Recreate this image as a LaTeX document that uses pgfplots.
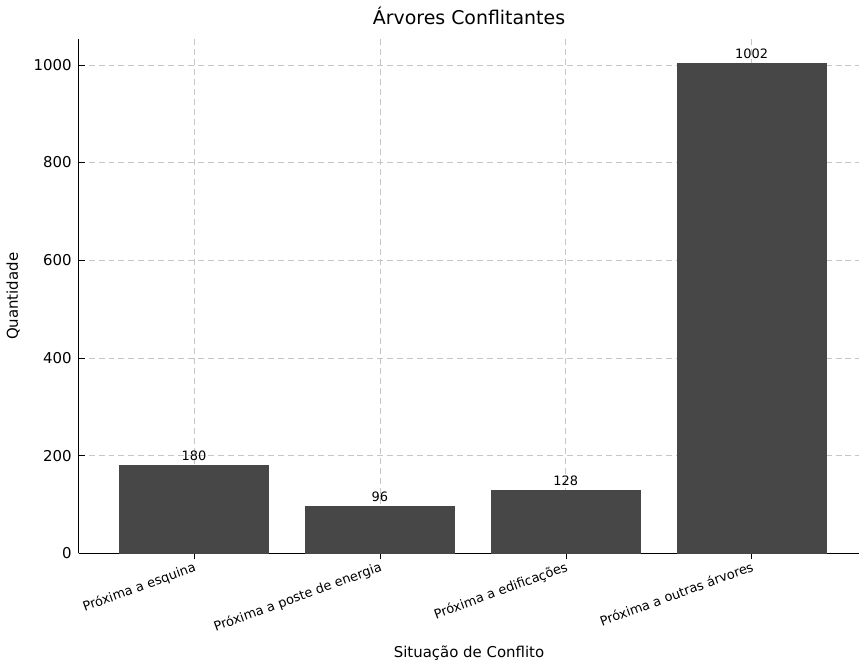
\documentclass[border=0pt]{standalone}
\usepackage{pgfplots}
\pgfplotsset{compat=1.18}
\usepackage{fontspec}
\setmainfont{DejaVu Sans}
\begin{document}
\begin{tikzpicture}[x=1pt,y=1pt]
\begin{axis}[
  width=392pt, height=258pt, scale only axis,
  font=\fontsize{7.5}{9}\selectfont,
  /pgf/number format/assume math mode=true,
  /pgf/number format/set thousands separator={},
  ybar, bar width=0.8, bar shift=0pt,
  xmin=-0.62, xmax=3.58, ymin=0, ymax=1052,
  xtick={0,1,2,3},
  xticklabels={Próxima a esquina, Próxima a poste de energia, Próxima a edificações, Próxima a outras árvores},
  xticklabel style={rotate=20, anchor=north east, inner sep=0.5pt, font=\fontsize{6.5}{7.5}\selectfont},
  ytick={0,200,400,600,800,1000},
  axis lines*=left,
  axis line style={black, line width=0.6pt},
  tick style={black},
  major tick length=3pt,
  tick pos=left,
  grid=major,
  grid style={gray!45, densely dashed, line width=0.3pt},
  title={Árvores Conflitantes},
  title style={font=\fontsize{9.5}{11}\selectfont, yshift=-2pt},
  xlabel={Situação de Conflito},
  xlabel style={yshift=-2pt},
  ylabel={Quantidade},
  nodes near coords,
  every node near coord/.append style={font=\fontsize{6.5}{8}\selectfont, black, yshift=-1pt},
  point meta=explicit symbolic,
]
\addplot[fill=black!72, draw=black!72] coordinates {
  (0,180) [180]
  (1,96) [96]
  (2,128) [128]
  (3,1002) [1002]
};
\end{axis}
\end{tikzpicture}
\end{document}
